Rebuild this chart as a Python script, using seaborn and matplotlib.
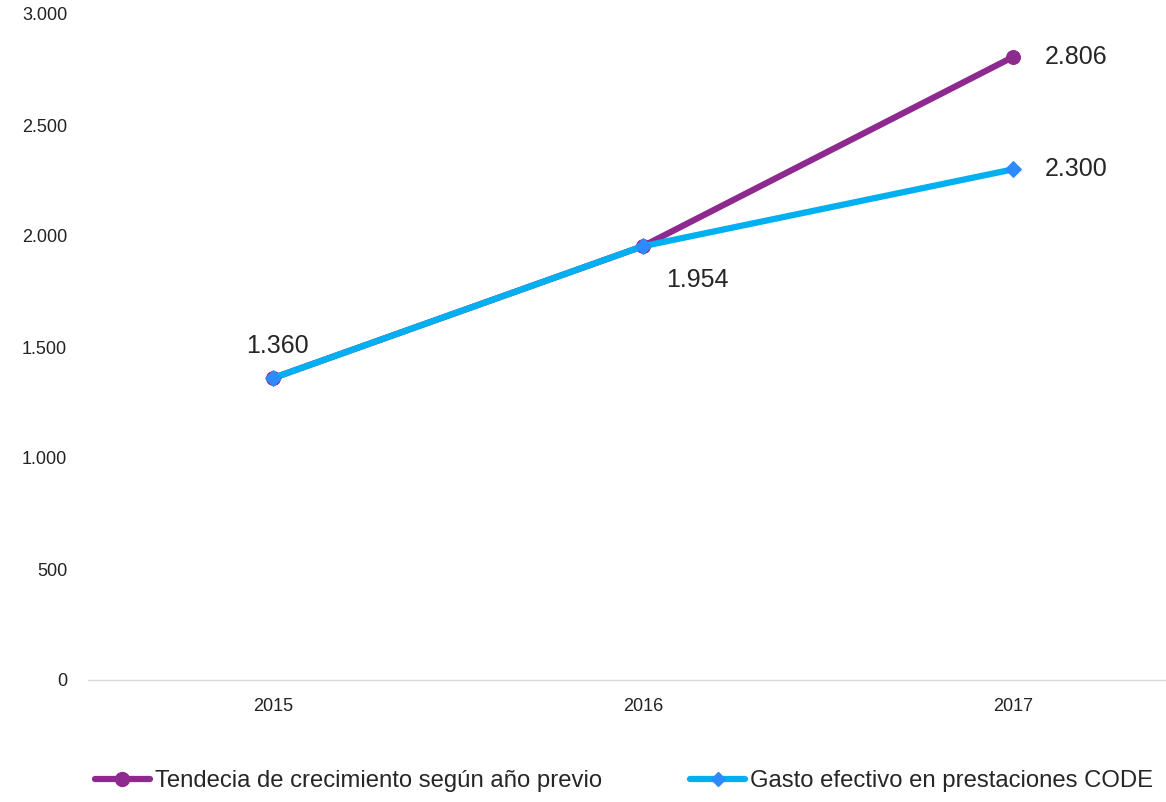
import pandas as pd
import numpy as np
import matplotlib.pyplot as plt
import seaborn as sns
from matplotlib.ticker import FuncFormatter
from matplotlib.lines import Line2D

years = ['2015', '2016', '2017']
tendencia = [1360, 1954, 2806]
gasto = [1360, 1954, 2300]
serie_tend = 'Tendecia de crecimiento según año previo'
serie_gasto = 'Gasto efectivo en prestaciones CODE'

purple = '#8E2A8F'
cyan = '#00B0F0'
diamond = '#2E8BFF'

sns.set_style('white')
plt.rcParams['font.family'] = ['Liberation Sans', 'DejaVu Sans']

df = pd.DataFrame({'year': years * 2,
                   'valor': tendencia + gasto,
                   'serie': [serie_tend] * 3 + [serie_gasto] * 3})

fig = plt.figure(figsize=(11.66, 8.02), dpi=100)
ax = fig.add_axes([88 / 1166, 122 / 802, 1078 / 1166, 666 / 802])

sns.lineplot(data=df[df.serie == serie_tend], x='year', y='valor', ax=ax,
             color=purple, lw=4.5, marker='o', markersize=10,
             markeredgecolor=purple, markerfacecolor=purple, legend=False)
sns.lineplot(data=df[df.serie == serie_gasto], x='year', y='valor', ax=ax,
             color=cyan, lw=4.5, marker='D', markersize=8,
             markeredgecolor=diamond, markerfacecolor=diamond, legend=False)

fmt = lambda v: f'{v:,.0f}'.replace(',', '.')

# etiquetas de datos
lbl = 18
ax.annotate(fmt(tendencia[0]), (0, tendencia[0]), xytext=(3, 23), textcoords='offset points',
            ha='center', va='center', fontsize=lbl)
ax.annotate(fmt(tendencia[1]), (1, tendencia[1]), xytext=(39, -24), textcoords='offset points',
            ha='center', va='center', fontsize=lbl)
ax.annotate(fmt(tendencia[2]), (2, tendencia[2]), xytext=(23, 0), textcoords='offset points',
            ha='left', va='center', fontsize=lbl)
ax.annotate(fmt(gasto[2]), (2, gasto[2]), xytext=(23, 0), textcoords='offset points',
            ha='left', va='center', fontsize=lbl)

ax.set_ylim(0, 3000)
ax.set_yticks(np.arange(0, 3001, 500))
ax.yaxis.set_major_formatter(FuncFormatter(lambda v, p: fmt(v)))
ax.set_xlim(-0.5, 2.414)
ax.set_xlabel('')
ax.set_ylabel('')
ax.tick_params(axis='both', length=0, labelsize=13, colors='#222222')
ax.tick_params(axis='y', pad=15)
ax.tick_params(axis='x', pad=13)
for s in ['top', 'right', 'left']:
    ax.spines[s].set_visible(False)
ax.spines['bottom'].set_color('#D9D9D9')
ax.spines['bottom'].set_linewidth(1)

handles = [Line2D([], [], color=purple, lw=4.5, marker='o', markersize=10,
                  markerfacecolor=purple, markeredgecolor=purple),
           Line2D([], [], color=cyan, lw=4.5, marker='D', markersize=7,
                  markerfacecolor=diamond, markeredgecolor=diamond)]
fig.legend(handles, [serie_tend, serie_gasto], loc='center left',
           bbox_to_anchor=(95 / 1166, 1 - 781 / 802), ncol=2, frameon=False,
           fontsize=17.2, handlelength=2.3, handletextpad=0.2, columnspacing=3.7,
           borderaxespad=0, borderpad=0)

fig.savefig('out.png', dpi=100)
